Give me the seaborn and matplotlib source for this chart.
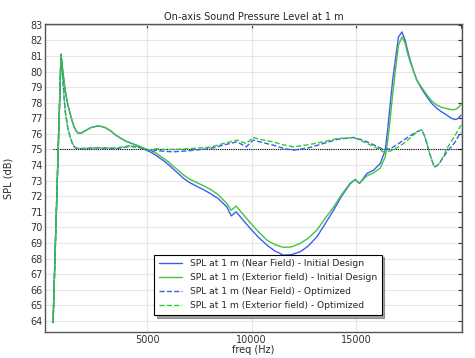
import numpy as np
import pandas as pd
import matplotlib
matplotlib.use("Agg")
import matplotlib.pyplot as plt
import seaborn as sns

# Initial design, near field (blue solid)
freq_init_near = [500, 880, 950, 1076, 1200, 1316, 1420, 1507, 1600, 1700, 1850, 2033, 2300, 2600,
                  2800, 3000, 3250, 3470, 3700, 3950, 4200, 4430, 4700, 4900, 5140, 5450, 5765,
                  6000, 6244, 6500, 6737, 7000, 7400, 7700, 8015, 8400, 8813, 9020, 9260, 9600, 9930,
                  10300, 10728, 11100, 11522, 11900, 12321, 12700, 13120, 13500, 13915, 14300,
                  14714, 14953, 15160, 15512, 15830, 16150, 16390, 16500, 16630, 16750, 16870,
                  17025, 17190, 17345, 17450, 17585, 17750, 17905, 18150, 18384, 18620, 18862,
                  19100, 19340, 19550, 19738, 19900, 20010]
spl_init_near = [63.9, 81.1, 80.2, 78.8, 77.9, 77.3, 76.8, 76.43, 76.2, 76.05, 76.05, 76.2, 76.4, 76.5,
                 76.48, 76.4, 76.2, 75.95, 75.75, 75.55, 75.42, 75.3, 75.15, 75.0, 74.85, 74.6, 74.3,
                 74.05, 73.75, 73.45, 73.15, 72.9, 72.62, 72.42, 72.18, 71.85, 71.32, 70.74, 71.0, 70.45, 69.94,
                 69.4, 68.87, 68.5, 68.22, 68.25, 68.44, 68.8, 69.4, 70.2, 71.1, 72.0,
                 72.8, 73.08, 72.82, 73.46, 73.67, 74.1, 74.95, 76.2, 77.95, 79.5, 80.72,
                 82.22, 82.54, 82.0, 81.4, 80.72, 80.0, 79.44, 78.85, 78.37, 77.95, 77.63,
                 77.4, 77.2, 77.0, 76.92, 77.0, 77.2]

# Initial design, exterior field (green solid)
freq_init_ext = [500, 880, 950, 1076, 1200, 1316, 1420, 1507, 1600, 1700, 1850, 2033, 2300, 2600,
                 2800, 3000, 3250, 3470, 3700, 3950, 4200, 4430, 4700, 4900, 5140, 5450, 5765,
                 6000, 6244, 6500, 6737, 7000, 7400, 7700, 8015, 8400, 8813, 9020, 9260, 9600, 9930,
                 10300, 10728, 11100, 11522, 11900, 12321, 12700, 13120, 13500, 13915, 14300,
                 14714, 14953, 15160, 15512, 15830, 16150, 16390, 16500, 16630, 16750, 16870,
                 17025, 17190, 17345, 17450, 17585, 17750, 17905, 18150, 18384, 18620, 18862,
                 19100, 19340, 19550, 19738, 19900, 20010]
spl_init_ext = [63.9, 81.05, 80.2, 78.8, 77.9, 77.3, 76.8, 76.45, 76.2, 76.05, 76.05, 76.2, 76.4, 76.5,
                76.48, 76.4, 76.2, 75.95, 75.75, 75.55, 75.42, 75.3, 75.17, 75.05, 74.95, 74.75, 74.45,
                74.22, 73.93, 73.65, 73.37, 73.12, 72.86, 72.67, 72.45, 72.1, 71.54, 71.1, 71.37, 70.82, 70.3,
                69.75, 69.19, 68.9, 68.72, 68.75, 68.97, 69.3, 69.83, 70.55, 71.3, 72.1,
                72.85, 73.05, 72.85, 73.3, 73.5, 73.8, 74.53, 75.5, 77.0, 78.6, 80.0,
                81.7, 82.22, 81.8, 81.2, 80.6, 80.0, 79.44, 78.95, 78.5, 78.1, 77.84,
                77.7, 77.62, 77.56, 77.56, 77.7, 77.9]

# Optimized, near field (blue dashed)
freq_opt_near = [500, 880, 950, 1076, 1200, 1316, 1420, 1507, 1600, 1700, 2000, 2600, 3500, 4200,
                 4700, 5000, 5200, 5450, 5800, 6244, 7000, 8015, 8700, 9300, 9740, 10070, 10500,
                 11027, 11500, 11984, 12700, 13420, 14100, 14855, 15190, 15500, 15830, 16300,
                 16630, 16950, 17260, 17600, 17905, 18050, 18145, 18260, 18384, 18500, 18623,
                 18700, 18780, 18900, 19020, 19180, 19340, 19540, 19738, 20010]
spl_opt_near = [63.9, 81.1, 79.8, 77.5, 76.4, 75.8, 75.4, 75.17, 75.08, 75.05, 75.05, 75.1, 75.05, 75.2,
                75.1, 74.95, 74.85, 74.95, 74.88, 74.85, 74.92, 75.06, 75.3, 75.49, 75.17, 75.6, 75.45,
                75.28, 75.08, 74.95, 75.1, 75.38, 75.65, 75.77, 75.65, 75.5, 75.3, 75.0,
                75.05, 75.3, 75.6, 75.9, 76.13, 76.22, 76.24, 75.9, 75.38, 74.8, 74.31,
                74.0, 73.88, 74.0, 74.2, 74.5, 74.85, 75.15, 75.49, 76.13]

# Optimized, exterior field (green dashed)
freq_opt_ext = [500, 880, 950, 1076, 1200, 1316, 1420, 1507, 1600, 1700, 2000, 2600, 3500, 4200,
                4700, 5000, 5200, 5450, 5800, 6244, 7000, 8015, 8700, 9300, 9740, 10070, 10500,
                11027, 11500, 11984, 12700, 13420, 14100, 14855, 15190, 15500, 15830, 16300,
                16630, 16950, 17260, 17600, 17905, 18050, 18145, 18260, 18384, 18500, 18623,
                18700, 18780, 18900, 19020, 19180, 19340, 19540, 19738, 20010]
spl_opt_ext = [63.9, 81.05, 79.8, 77.5, 76.4, 75.8, 75.42, 75.2, 75.1, 75.08, 75.08, 75.12, 75.1, 75.25,
               75.15, 75.0, 74.95, 75.05, 75.0, 75.0, 75.05, 75.15, 75.4, 75.6, 75.38, 75.77, 75.62,
               75.49, 75.3, 75.17, 75.3, 75.49, 75.7, 75.77, 75.6, 75.4, 75.2, 74.85,
               74.9, 75.1, 75.38, 75.75, 76.13, 76.22, 76.24, 75.9, 75.38, 74.8, 74.31,
               74.0, 73.88, 74.0, 74.2, 74.6, 75.06, 75.5, 75.92, 76.56]

# 75 dB target line
ref_freq = [500, 20000]
ref_spl = [75, 75]

labels = ["SPL at 1 m (Near Field) - Initial Design",
          "SPL at 1 m (Exterior field) - Initial Design",
          "SPL at 1 m (Near Field) - Optimized",
          "SPL at 1 m (Exterior field) - Optimized"]
colors = ["#3b5ef0", "#43c443", "#3b5ef0", "#2ecc2e"]
styles = ["-", "-", "--", "--"]
series = [(freq_init_near, spl_init_near), (freq_init_ext, spl_init_ext),
          (freq_opt_near, spl_opt_near), (freq_opt_ext, spl_opt_ext)]

sns.set_style("white")
plt.rcParams["font.family"] = ["DejaVu Sans"]

fig = plt.figure(figsize=(4.75, 3.58), dpi=100)
ax = fig.add_axes([0.095, 0.073, 0.878, 0.86])

ax.plot(ref_freq, ref_spl, color="black", linestyle=(0, (1, 1)), linewidth=0.8, zorder=1)

for (f, s), lab, c, ls in zip(series, labels, colors, styles):
    df = pd.DataFrame({"freq": f, "SPL": s})
    sns.lineplot(data=df, x="freq", y="SPL", ax=ax, color=c, linewidth=1.0,
                 linestyle=ls, label=lab, sort=False, zorder=3)

ax.set_xlim(120, 20070)
ax.set_ylim(63.3, 83.05)
ax.set_yticks(np.arange(64, 84, 1))
ax.set_xticks([5000, 10000, 15000, 20000])
ax.set_xticklabels(["5000", "10000", "15000", ""])
ax.grid(True, color="#e6e6e6", linewidth=0.8)
ax.tick_params(direction="in", length=3, labelsize=7, top=True, right=True,
               colors="#333333", pad=2)
for sp in ax.spines.values():
    sp.set_color("#555555")
    sp.set_linewidth(1.0)

ax.set_title("On-axis Sound Pressure Level at 1 m", fontsize=7, pad=3)
ax.set_xlabel("freq (Hz)", fontsize=7, labelpad=0)
ax.set_ylabel("SPL (dB)", fontsize=7, labelpad=12)

leg = ax.legend(loc="lower left", bbox_to_anchor=(0.25, 0.04), fontsize=6.6,
                frameon=True, fancybox=False, shadow=True, handlelength=2.6,
                borderpad=0.5, labelspacing=0.55)
leg.get_frame().set_edgecolor("black")
leg.get_frame().set_linewidth(0.8)

fig.savefig("out.png", dpi=100)
